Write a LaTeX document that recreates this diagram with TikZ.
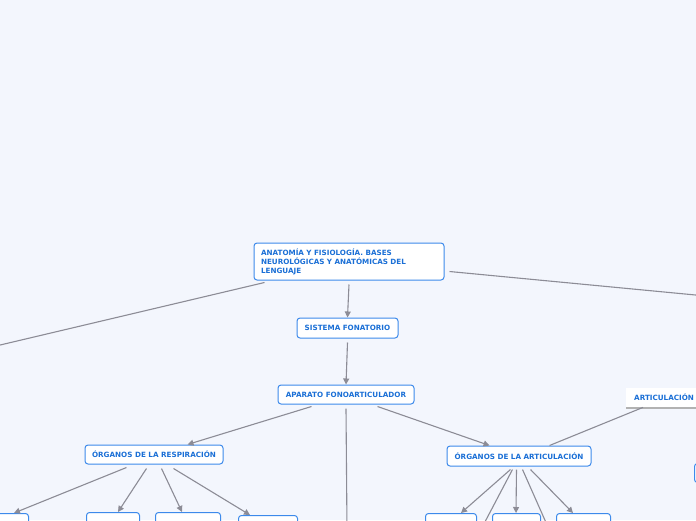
\documentclass[tikz,border=0pt]{standalone}
\usepackage{fontspec}
\newfontfamily\nodefont{DejaVu Sans}
\usetikzlibrary{arrows.meta}
\definecolor{bgc}{HTML}{F3F6FD}
\definecolor{bord}{HTML}{3D8AEB}
\definecolor{txt}{HTML}{1A6FD6}
\definecolor{edge}{HTML}{8C8C96}
\begin{document}
\begin{tikzpicture}[x=1pt,y=-1pt,
  topic/.style={draw=bord,fill=white,line width=1pt,rounded corners=3pt,
    inner sep=0pt,font=\nodefont\bfseries\fontsize{7.2}{9}\selectfont,text=txt},
  conn/.style={draw=edge,line width=1.1pt},
  arr/.style={conn,-{Triangle[length=6pt,width=6pt]}}]
\useasboundingbox (0,0) rectangle (696,520);
\fill[bgc] (0,0) rectangle (696,520);
\clip (0,0) rectangle (696,520);
% main nodes
\node[topic,minimum width=190pt,minimum height=37pt,text width=176pt,align=left] (root) at (349,261.5)
  {ANATOMÍA Y FISIOLOGÍA. BASES\\NEUROLÓGICAS Y ANATÓMICAS DEL\\LENGUAJE};
\node[topic,minimum width=101pt,minimum height=20pt] (sis) at (347.5,328) {SISTEMA FONATORIO};
\node[topic,minimum width=136pt,minimum height=19pt] (apar) at (346,394.5) {APARATO FONOARTICULADOR};
\node[topic,minimum width=138pt,minimum height=19pt] (resp) at (154,454.5) {ÓRGANOS DE LA RESPIRACIÓN};
\node[topic,minimum width=144pt,minimum height=20pt] (art) at (519,456) {ÓRGANOS DE LA ARTICULACIÓN};
% floating node
\fill[black!30] (626,406) rectangle (700,409);
\node[fill=white,inner sep=0pt,minimum width=74pt,minimum height=19pt,anchor=north west,
  font=\nodefont\bfseries\fontsize{7.2}{9}\selectfont,text=txt,text width=70pt,align=left] (artic) at (626,388)
  {\hspace*{6pt}ARTICULACIÓN};
\node[topic,minimum width=30pt,minimum height=19pt,anchor=north west] (rsm) at (694,463) {};
% bottom row (cut off)
\node[topic,minimum width=58pt,minimum height=30pt,anchor=north west] (l1) at (-30,513) {};
\node[topic,minimum width=53pt,minimum height=30pt,anchor=north west] (l2) at (86,512) {};
\node[topic,minimum width=65pt,minimum height=30pt,anchor=north west] (l3) at (155,512) {};
\node[topic,minimum width=59pt,minimum height=30pt,anchor=north west] (l4) at (238,515) {};
\node[topic,minimum width=51pt,minimum height=30pt,anchor=north west] (r1) at (425,513) {};
\node[topic,minimum width=48pt,minimum height=30pt,anchor=north west] (r2) at (492,513) {};
\node[topic,minimum width=54pt,minimum height=30pt,anchor=north west] (r3) at (556,513) {};
% free ends
\coordinate (offl) at (-10,347.4);
\coordinate (offr) at (706,296);
\coordinate (offd) at (347,530);
\coordinate (offa) at (480.7,530);
\coordinate (offb) at (549.3,530);
% connectors
\draw[conn] ([xshift=11pt,yshift=-2pt]root.south west) -- (offl);
\draw[conn] ([xshift=5pt,yshift=-10pt]root.east) -- (offr);
\draw[arr] ([yshift=-4pt]root.south) -- (sis.north);
\draw[arr] ([yshift=-4pt]sis.south) -- (apar.north);
\draw[arr] ([xshift=34pt,yshift=-2pt]apar.south west) -- ([xshift=103pt]resp.north west);
\draw[conn] ([yshift=-4pt]apar.south) -- (offd);
\draw[arr] ([xshift=100pt,yshift=-2pt]apar.south west) -- ([xshift=43pt]art.north west);
\draw[conn] ([xshift=17pt]artic.south west) -- ([xshift=103pt]art.north west);
\draw[arr] ([xshift=42pt,yshift=-3pt]resp.south west) -- ([xshift=44pt]l1.north west);
\draw[arr] ([xshift=62pt,yshift=-4pt]resp.south west) -- ([xshift=32pt]l2.north west);
\draw[arr] ([xshift=77pt,yshift=-4pt]resp.south west) -- ([xshift=27pt]l3.north west);
\draw[arr] ([xshift=89pt,yshift=-4pt]resp.south west) -- ([xshift=12pt]l4.north west);
\draw[arr] ([xshift=64pt,yshift=-3pt]art.south west) -- ([xshift=36pt]r1.north west);
\draw[conn] ([xshift=66pt,yshift=-3pt]art.south west) -- (offa);
\draw[arr] ([xshift=70pt,yshift=-3pt]art.south west) -- ([xshift=24pt]r2.north west);
\draw[conn] ([xshift=76pt,yshift=-3pt]art.south west) -- (offb);
\draw[arr] ([xshift=84pt,yshift=-3pt]art.south west) -- ([xshift=17pt]r3.north west);
\end{tikzpicture}
\end{document}
